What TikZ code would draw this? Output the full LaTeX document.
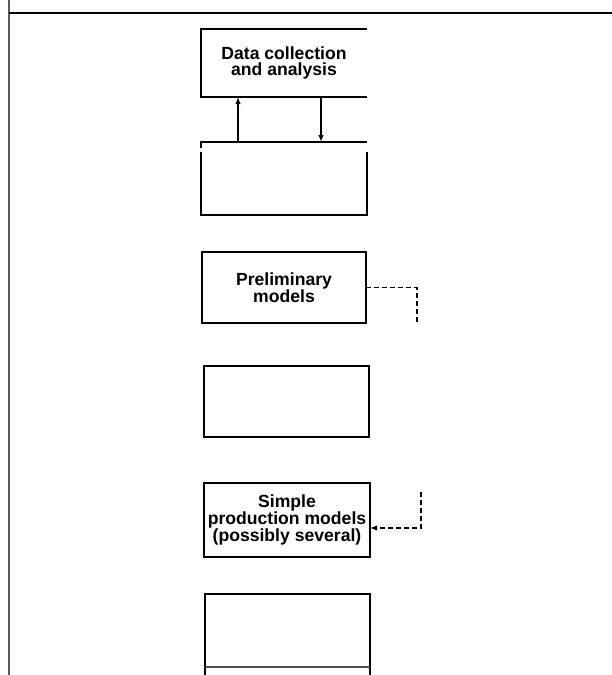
\documentclass[tikz,border=0pt]{standalone}
\usepackage{fontspec}
\setmainfont{Liberation Sans}
\usetikzlibrary{arrows.meta}
\begin{document}
\begin{tikzpicture}[x=1pt,y=-1pt,
  boxtext/.style={font=\fontsize{17.6}{16.8}\selectfont\bfseries, align=center, inner sep=0pt, outer sep=0pt},
  boxline/.style={line width=1.6pt, black},
  conn/.style={line width=1.4pt, -{Latex[length=7pt,width=5.5pt]}},
  dashconn/.style={line width=1.6pt, dash pattern=on 5pt off 3pt}]
\useasboundingbox (0,0) rectangle (612,675);
% frame lines
\coordinate (fl1) at (8.5,0);
\coordinate (fl2) at (8.5,675);
\coordinate (ft1) at (8.5,13);
\coordinate (ft2) at (612,13);
\draw[line width=2pt, black!65] (fl1) -- (fl2);
\draw[line width=2.6pt] (ft1) -- (ft2);
% box 1 (open on the right)
\node[boxtext, minimum width=166pt, minimum height=68pt] (dc) at (284,63) {Data collection\\and analysis};
\draw[boxline] (dc.south east) -- (dc.south west) -- (dc.north west) -- (dc.north east);
% box 2
\node[minimum width=166pt, minimum height=73pt, inner sep=0pt, outer sep=0pt] (b2) at (284,178.5) {};
\draw[boxline] ([yshift=-6pt]b2.north west) -- (b2.north west) -- (b2.north east);
\draw[boxline] ([yshift=-10pt]b2.north west) -- (b2.south west) -- (b2.south east) -- ([yshift=-10pt]b2.north east);
% arrows between box 1 and box 2
\draw[conn] (b2.north west -| 238,0) -- (dc.south west -| 238,0);
\draw[conn] (dc.south west -| 321,0) -- (b2.north west -| 321,0);
% preliminary models
\node[boxtext, draw, boxline, minimum width=164pt, minimum height=71pt] (pm) at (284,287.5) {Preliminary\\models};
% empty box 4
\node[draw, boxline, minimum width=165pt, minimum height=71pt, inner sep=0pt] (e4) at (286.5,401.5) {};
% simple production models
\node[boxtext, draw, boxline, minimum width=166pt, minimum height=74pt] (sp) at (287,520) {Simple\\production models\\(possibly several)};
% bottom box
\node[inner sep=0pt, outer sep=0pt, minimum width=165pt, minimum height=81pt] (e6) at (287.5,634.5) {};
\draw[boxline] (e6.south west) -- (e6.north west) -- (e6.north east) -- (e6.south east);
\draw[line width=1.6pt, black!70] (e6.south west |- 0,667) -- (e6.south east |- 0,667);
% dashed connectors
\coordinate (d1) at (417,322);
\coordinate (d2) at (421,492);
\draw[dashconn] (pm.east) -- (pm.east -| d1) -- (d1);
\draw[dashconn, -{Latex[length=7pt,width=5.5pt]}] (d2) -- (d2 |- 0,528) -- (sp.east |- 0,528);
\end{tikzpicture}
\end{document}
